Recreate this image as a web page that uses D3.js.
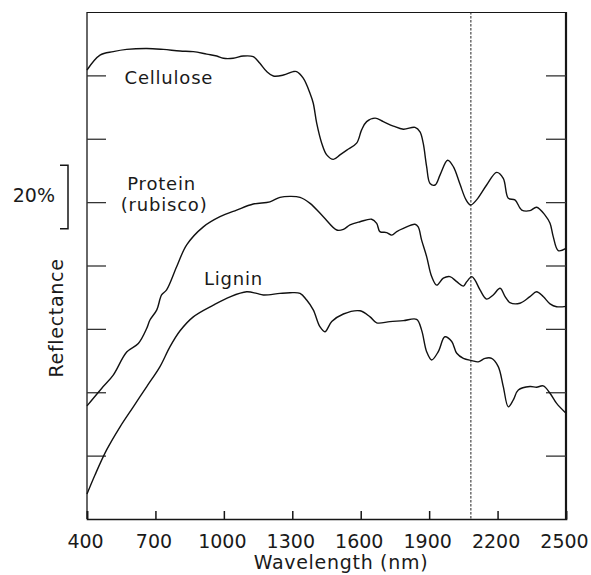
<!DOCTYPE html>
<html><head><meta charset="utf-8">
<script src="https://cdn.jsdelivr.net/npm/d3@7"></script>
<style>
body{margin:0;background:#fff}
svg{display:block}
text{font-family:'DejaVu Sans',sans-serif;fill:#1a1a1a}
</style></head>
<body><svg id="c" width="591" height="575"></svg>
<script>
// ---- data (wavelength nm, relative reflectance with curves offset) ----
const cellulose = [[400,141.7],[457,146.4],[515,147.5],[574,148.2],[662,148.5],[735,148.2],[808,147.7],[866,147.5],[925,146.7],[969,146.1],[998,145.4],[1041,145.4],[1085,146.1],[1129,145.9],[1158,143.8],[1188,141.2],[1217,139.8],[1261,140.1],[1304,141.2],[1319,141.2],[1348,139.1],[1378,134.3],[1392,131.2],[1407,124.9],[1429,118.6],[1451,114.9],[1480,113.5],[1509,114.9],[1539,116.4],[1582,118.6],[1604,122.8],[1626,125.4],[1663,126.5],[1699,125.4],[1743,124.0],[1787,123.0],[1838,123.6],[1860,122.2],[1874,118.6],[1889,111.2],[1904,105.9],[1926,105.4],[1948,108.6],[1981,113.2],[2006,111.2],[2035,105.7],[2062,100.7],[2082,99.1],[2108,100.7],[2152,105.4],[2196,109.4],[2225,107.5],[2247,101.2],[2276,100.7],[2306,97.5],[2342,97.3],[2371,98.4],[2408,95.9],[2430,93.3],[2444,89.1],[2466,84.7],[2500,85.4]];
const protein = [[400,35.7],[464,41.2],[515,45.4],[574,52.7],[625,55.4],[662,60.2],[676,62.8],[706,66.0],[727,70.7],[749,72.3],[793,79.6],[837,86.5],[910,92.2],[983,95.4],[1056,97.5],[1129,99.4],[1202,100.1],[1246,101.5],[1290,101.8],[1334,101.5],[1378,99.6],[1436,95.4],[1495,91.2],[1524,91.4],[1553,92.8],[1597,93.8],[1648,94.6],[1670,93.3],[1684,90.7],[1714,90.4],[1736,89.6],[1758,90.7],[1787,91.7],[1838,93.0],[1852,92.2],[1867,88.0],[1889,82.8],[1911,76.5],[1933,73.8],[1962,76.0],[1991,76.5],[2021,74.9],[2050,73.5],[2065,74.9],[2087,76.5],[2101,75.4],[2123,72.3],[2152,69.4],[2181,70.7],[2211,72.8],[2233,70.2],[2254,68.3],[2298,68.1],[2342,70.2],[2371,71.7],[2400,70.2],[2430,67.9],[2459,67.0],[2500,67.1]];
const lignin = [[400,7.9],[435,13.9],[486,21.8],[545,29.1],[603,35.4],[662,41.8],[720,48.1],[764,54.4],[808,59.4],[866,63.8],[954,67.5],[1027,70.1],[1100,71.7],[1144,71.2],[1173,70.7],[1246,71.2],[1290,71.4],[1334,71.2],[1363,69.1],[1392,66.0],[1421,60.7],[1443,59.1],[1473,62.3],[1524,64.7],[1597,65.7],[1641,63.8],[1670,61.9],[1728,62.3],[1787,62.6],[1845,63.0],[1867,59.6],[1889,52.8],[1911,50.2],[1940,52.8],[1969,57.5],[1999,56.0],[2021,52.3],[2050,50.7],[2087,50.0],[2115,49.6],[2145,50.7],[2174,50.7],[2203,48.1],[2225,41.8],[2247,35.4],[2269,37.6],[2291,40.7],[2342,41.8],[2371,41.6],[2400,42.0],[2430,39.7],[2459,36.5],[2500,33.4]];
const xTicks = [400,700,1000,1300,1600,1900,2200,2500];
const yTicks = [20,40,60,80,100,120,140];
const markerWavelength = 2083;
const seriesLabels = [
  {text:"Cellulose", wl:759, v:137.3},
  {text:"Protein", wl:727, v:103.8},
  {text:"(rubisco)", wl:738, v:97.2},
  {text:"Lignin", wl:1042, v:73.8}
];
const scaleBar = {from:91.6, to:111.6, label:"20%"};

// ---- chart ----
const svg = d3.select("#c");
const L=87, R=566, T=12, B=519;
const x = d3.scaleLinear().domain([400,2500]).range([L,R]);
const y = d3.scaleLinear().domain([0,160]).range([B,T]);
const ink = "#161616";

// frame
svg.append("line").attr("x1",L).attr("x2",R).attr("y1",T+0.5).attr("y2",T+0.5).attr("stroke",ink).attr("stroke-width",1.2);
svg.append("line").attr("x1",L).attr("x2",L).attr("y1",T).attr("y2",B).attr("stroke",ink).attr("stroke-width",1.3);
svg.append("line").attr("x1",R).attr("x2",R).attr("y1",T).attr("y2",B+1).attr("stroke",ink).attr("stroke-width",2.2);

// bottom axis
const gx = svg.append("g").attr("transform",`translate(0,${B})`)
  .call(d3.axisBottom(x).tickValues(xTicks).tickSize(-8).tickFormat(d3.format("d")));
gx.select(".domain").attr("stroke",ink).attr("stroke-width",1.6);
gx.selectAll(".tick line").attr("stroke",ink).attr("stroke-width",1.5);
gx.selectAll(".tick text").attr("y",29).attr("dy",0).attr("x",-2)
  .style("font-size","19px").style("font-family","'DejaVu Sans',sans-serif").attr("fill","#1a1a1a");

// left and right ticks
const gl = svg.append("g").attr("transform",`translate(${L},0)`)
  .call(d3.axisLeft(y).tickValues(yTicks).tickSize(-19).tickFormat(""));
gl.select(".domain").remove();
gl.selectAll(".tick line").attr("stroke","#333").attr("stroke-width",1.3);
const gr = svg.append("g").attr("transform",`translate(${R},0)`)
  .call(d3.axisRight(y).tickValues(yTicks).tickSize(-20).tickFormat(""));
gr.select(".domain").remove();
gr.selectAll(".tick line").attr("stroke","#333").attr("stroke-width",1.3);

// dashed marker
svg.append("line").attr("x1",x(markerWavelength)).attr("x2",x(markerWavelength))
  .attr("y1",T).attr("y2",B).attr("stroke","#222").attr("stroke-width",1).attr("stroke-dasharray","2.5,1.5");

// curves
const line = d3.line().x(d=>x(d[0])).y(d=>y(d[1])).curve(d3.curveCatmullRom.alpha(0.5));
[cellulose, protein, lignin].forEach(s=>{
  svg.append("path").datum(s).attr("d",line).attr("fill","none")
    .attr("stroke","#111").attr("stroke-width",1.4).attr("stroke-linejoin","round");
});

// series labels
svg.selectAll(".slab").data(seriesLabels).join("text").attr("class","slab")
  .attr("x",d=>x(d.wl)).attr("y",d=>y(d.v)).attr("text-anchor","middle")
  .style("font-size","18px").style("letter-spacing","0.8px").text(d=>d.text);

// scale bar
const bx = 68;
svg.append("path").attr("d",`M${bx-8},${y(scaleBar.to)}H${bx}V${y(scaleBar.from)}H${bx-8}`)
  .attr("fill","none").attr("stroke",ink).attr("stroke-width",1.5);
svg.append("text").attr("x",55).attr("y",202).attr("text-anchor","end")
  .style("font-size","19px").text(scaleBar.label);

// axis titles
svg.append("text").attr("transform","translate(63,318) rotate(-90)").attr("text-anchor","middle")
  .style("font-size","19px").style("letter-spacing","0.7px").text("Reflectance");
svg.append("text").attr("x",341).attr("y",569).attr("text-anchor","middle")
  .style("font-size","19px").style("letter-spacing","0.7px").text("Wavelength (nm)");
</script></body></html>
